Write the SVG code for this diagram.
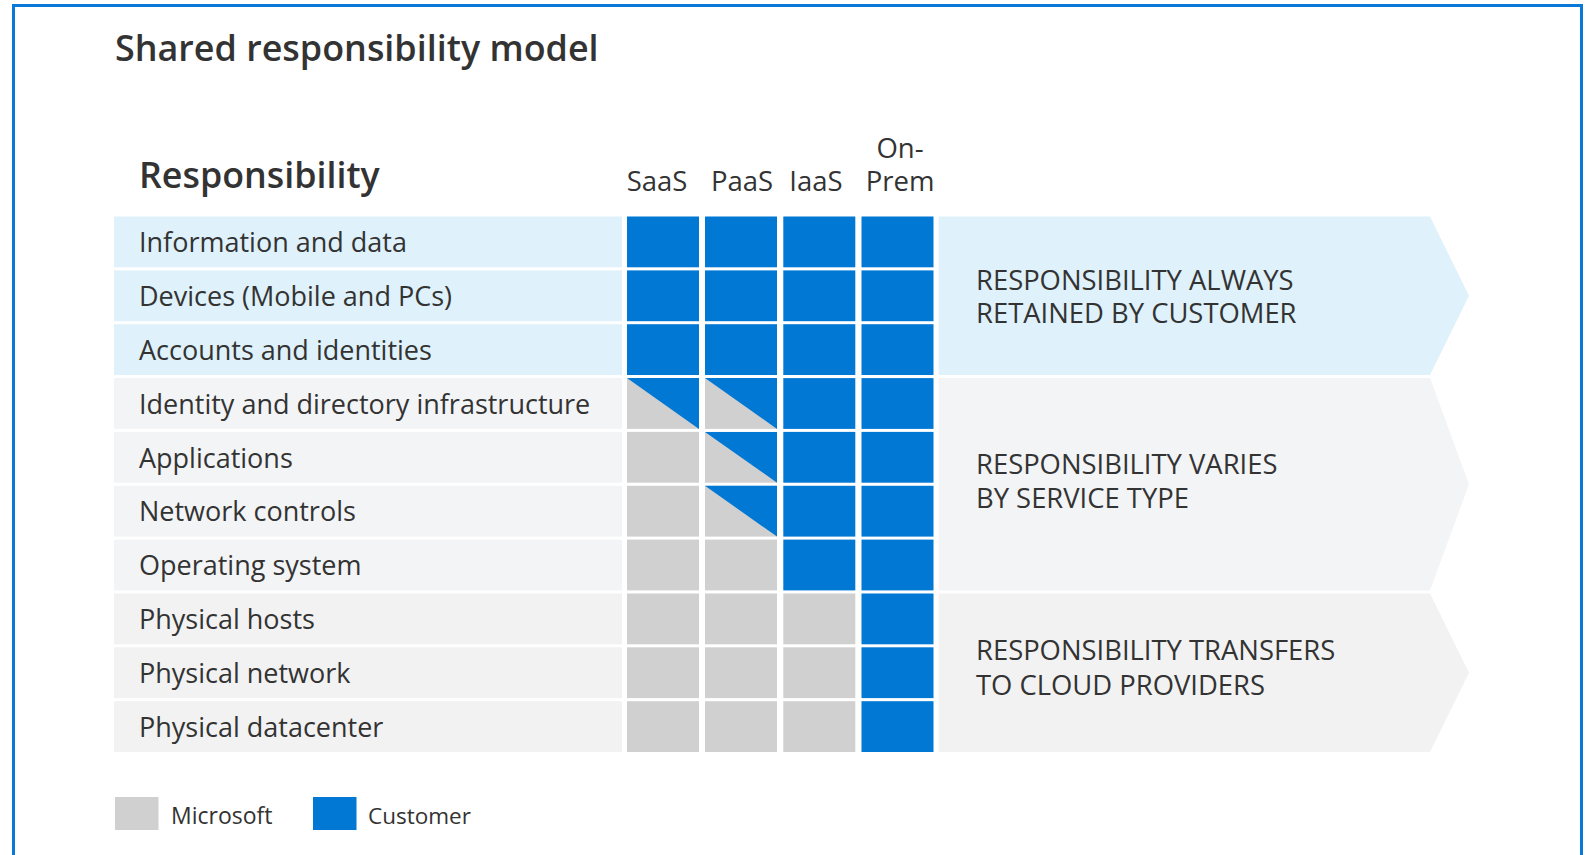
<svg xmlns="http://www.w3.org/2000/svg" width="1593" height="855" viewBox="0 0 1593 855">
<style>
text{font-family:"Open Sans","Noto Sans","Liberation Sans",sans-serif;fill:#333;}
.lbl{font-size:27px;}
.hdr{font-size:27.5px;text-anchor:middle;}
.band{font-size:27.4px;}
.c{fill:#0078D4;}
.m{fill:#D0D0D0;}
.rb{fill:#DFF1FA;}
.rg{fill:#F3F4F6;}
.rp{fill:#F2F2F2;}
</style>
<rect x="0" y="0" width="1593" height="855" fill="#fff"/>
<path d="M13.5,870 V5.5 H1581.5 V870" fill="none" stroke="#0A78D6" stroke-width="3"/>
<text x="115" y="61" style="font-size:35.9px;font-weight:600">Shared responsibility model</text>
<g id="header">
<text x="139" y="188" style="font-size:35.8px;font-weight:600">Responsibility</text>
<text class="hdr" x="657" y="191">SaaS</text>
<text class="hdr" x="742" y="191">PaaS</text>
<text class="hdr" x="816" y="191">IaaS</text>
<text class="hdr" x="900" y="158">On-</text>
<text class="hdr" x="900" y="191">Prem</text>
</g>
<g id="bands">
<g id="band-customer"><path class="rb" d="M938.7,216.5 H1430 L1469,295.8 L1430,375 H938.7 Z"/>
<text class="band" x="976" y="290">RESPONSIBILITY ALWAYS</text><text class="band" x="976" y="323">RETAINED BY CUSTOMER</text></g>
<g id="band-varies"><path class="rg" d="M938.7,378.1 H1430 L1469,484.3 L1430,590.4 H938.7 Z"/>
<text class="band" x="976" y="474">RESPONSIBILITY VARIES</text><text class="band" x="976" y="508">BY SERVICE TYPE</text></g>
<g id="band-transfers"><path class="rp" d="M938.7,593.5 H1430 L1469,672.8 L1430,752 H938.7 Z"/>
<text class="band" x="976" y="660">RESPONSIBILITY TRANSFERS</text><text class="band" x="976" y="695">TO CLOUD PROVIDERS</text></g>
</g>
<g id="rows">
<g id="row1"><rect class="rb" x="114" y="216.5" width="508" height="50.8"/><text class="lbl" x="139" y="252">Information and data</text>
<rect class="c" x="627" y="216.5" width="72" height="50.8"/><rect class="c" x="705" y="216.5" width="72" height="50.8"/><rect class="c" x="783.3" y="216.5" width="72" height="50.8"/><rect class="c" x="861.5" y="216.5" width="72" height="50.8"/></g>
<g id="row2"><rect class="rb" x="114" y="270.4" width="508" height="50.8"/><text class="lbl" x="139" y="306">Devices (Mobile and PCs)</text>
<rect class="c" x="627" y="270.4" width="72" height="50.8"/><rect class="c" x="705" y="270.4" width="72" height="50.8"/><rect class="c" x="783.3" y="270.4" width="72" height="50.8"/><rect class="c" x="861.5" y="270.4" width="72" height="50.8"/></g>
<g id="row3"><rect class="rb" x="114" y="324.2" width="508" height="50.8"/><text class="lbl" x="139" y="360">Accounts and identities</text>
<rect class="c" x="627" y="324.2" width="72" height="50.8"/><rect class="c" x="705" y="324.2" width="72" height="50.8"/><rect class="c" x="783.3" y="324.2" width="72" height="50.8"/><rect class="c" x="861.5" y="324.2" width="72" height="50.8"/></g>
<g id="row4"><rect class="rg" x="114" y="378.1" width="508" height="50.8"/><text class="lbl" x="139" y="414">Identity and directory infrastructure</text>
<rect class="m" x="627" y="378.1" width="72" height="50.8"/><path class="c" d="M627,378.1 H699 V428.9 Z"/>
<rect class="m" x="705" y="378.1" width="72" height="50.8"/><path class="c" d="M705,378.1 H777 V428.9 Z"/>
<rect class="c" x="783.3" y="378.1" width="72" height="50.8"/><rect class="c" x="861.5" y="378.1" width="72" height="50.8"/></g>
<g id="row5"><rect class="rg" x="114" y="431.9" width="508" height="50.8"/><text class="lbl" x="139" y="468">Applications</text>
<rect class="m" x="627" y="431.9" width="72" height="50.8"/>
<rect class="m" x="705" y="431.9" width="72" height="50.8"/><path class="c" d="M705,431.9 H777 V482.7 Z"/>
<rect class="c" x="783.3" y="431.9" width="72" height="50.8"/><rect class="c" x="861.5" y="431.9" width="72" height="50.8"/></g>
<g id="row6"><rect class="rg" x="114" y="485.8" width="508" height="50.8"/><text class="lbl" x="139" y="521">Network controls</text>
<rect class="m" x="627" y="485.8" width="72" height="50.8"/>
<rect class="m" x="705" y="485.8" width="72" height="50.8"/><path class="c" d="M705,485.8 H777 V536.6 Z"/>
<rect class="c" x="783.3" y="485.8" width="72" height="50.8"/><rect class="c" x="861.5" y="485.8" width="72" height="50.8"/></g>
<g id="row7"><rect class="rg" x="114" y="539.6" width="508" height="50.8"/><text class="lbl" x="139" y="575">Operating system</text>
<rect class="m" x="627" y="539.6" width="72" height="50.8"/><rect class="m" x="705" y="539.6" width="72" height="50.8"/>
<rect class="c" x="783.3" y="539.6" width="72" height="50.8"/><rect class="c" x="861.5" y="539.6" width="72" height="50.8"/></g>
<g id="row8"><rect class="rp" x="114" y="593.5" width="508" height="50.8"/><text class="lbl" x="139" y="629">Physical hosts</text>
<rect class="m" x="627" y="593.5" width="72" height="50.8"/><rect class="m" x="705" y="593.5" width="72" height="50.8"/><rect class="m" x="783.3" y="593.5" width="72" height="50.8"/><rect class="c" x="861.5" y="593.5" width="72" height="50.8"/></g>
<g id="row9"><rect class="rp" x="114" y="647.3" width="508" height="50.8"/><text class="lbl" x="139" y="683">Physical network</text>
<rect class="m" x="627" y="647.3" width="72" height="50.8"/><rect class="m" x="705" y="647.3" width="72" height="50.8"/><rect class="m" x="783.3" y="647.3" width="72" height="50.8"/><rect class="c" x="861.5" y="647.3" width="72" height="50.8"/></g>
<g id="row10"><rect class="rp" x="114" y="701.2" width="508" height="50.8"/><text class="lbl" x="139" y="737">Physical datacenter</text>
<rect class="m" x="627" y="701.2" width="72" height="50.8"/><rect class="m" x="705" y="701.2" width="72" height="50.8"/><rect class="m" x="783.3" y="701.2" width="72" height="50.8"/><rect class="c" x="861.5" y="701.2" width="72" height="50.8"/></g>
</g>
<g id="legend">
<g id="legend-microsoft"><rect class="m" x="115" y="797" width="43.5" height="33"/><text x="171" y="824" style="font-size:23px">Microsoft</text></g>
<g id="legend-customer"><rect class="c" x="313" y="797" width="43.5" height="33"/><text x="368" y="824" style="font-size:22.5px">Customer</text></g>
</g>
</svg>
